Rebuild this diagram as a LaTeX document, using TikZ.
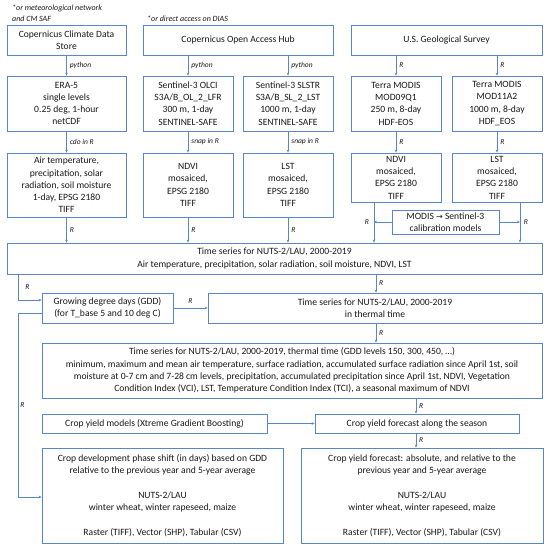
\documentclass[tikz,border=0pt]{standalone}
\usepackage{fontspec}
\setmainfont{Carlito}
\usetikzlibrary{arrows.meta,calc}
\definecolor{ln}{RGB}{88,134,200}
\definecolor{tx}{RGB}{25,25,25}
\tikzset{
  box/.style={draw=ln, line width=0.8pt, rectangle, inner sep=1pt, align=center, text=tx,
    font=\fontsize{9.6}{12.3}\selectfont},
  arr/.style={draw=ln, line width=0.7pt, -{Stealth[length=3pt,width=2.6pt]}},
  lin/.style={draw=ln, line width=0.7pt},
  lab/.style={font=\fontsize{7.5}{8}\selectfont\itshape, text=tx, inner sep=1pt},
  note/.style={font=\fontsize{8}{11.5}\selectfont\itshape, text=tx, inner sep=0pt, align=left, anchor=west}
}
\newcommand{\bx}[6]{\node[box, minimum width=#3pt, minimum height=#4pt] (#1) at (#2) {#6};}
\begin{document}
\begin{tikzpicture}[x=1pt,y=-1pt]
\useasboundingbox (0,0) rectangle (550,549);
\fill[white] (0,0) rectangle (550,549);
% notes
\node[note] (n1) at (12,13) {*or meteorological network\\and CM SAF};
\node[note] (n2) at (147,19) {*or direct access on DIAS};
% top row
\bx{ccds}{66.5,40}{119}{30}{}{Copernicus Climate Data\\Store}
\bx{coah}{238,40}{190}{30}{}{Copernicus Open Access Hub}
\bx{usgs}{446.5,40}{191}{30}{}{U.S. Geological Survey}
% second row
\bx{era5}{66.5,103.5}{119}{55}{}{ERA-5\\single levels\\0.25 deg, 1-hour\\netCDF}
\bx{olci}{188,103.5}{90}{55}{}{Sentinel-3 OLCI\\S3A/B\_OL\_2\_LFR\\300 m, 1-day\\SENTINEL-SAFE}
\bx{slstr}{288,103.5}{90}{55}{}{Sentinel-3 SLSTR\\S3A/B\_SL\_2\_LST\\1000 m, 1-day\\SENTINEL-SAFE}
\bx{mod09}{396,103.5}{90}{55}{}{Terra MODIS\\MOD09Q1\\250 m, 8-day\\HDF-EOS}
\bx{mod11}{497,103.5}{90}{55}{}{Terra MODIS\\MOD11A2\\1000 m, 8-day\\HDF\_EOS}
% third row
\bx{air}{66.5,185}{119}{64}{}{Air temperature,\\precipitation, solar\\radiation, soil moisture\\1-day, EPSG 2180\\TIFF}
\bx{ndvi}{188,185}{90}{64}{}{NDVI\\mosaiced,\\EPSG 2180\\TIFF}
\bx{lst}{288,185}{90}{64}{}{LST\\mosaiced,\\EPSG 2180\\TIFF}
\bx{mndvi}{396,177.5}{90}{49}{}{NDVI\\mosaiced,\\EPSG 2180\\TIFF}
\bx{mlst}{497,177.5}{90}{49}{}{LST\\mosaiced,\\EPSG 2180\\TIFF}
\bx{calib}{445.5,222}{107}{24}{}{MODIS \textrm{\fontspec{DejaVu Sans}\fontsize{8}{9}\selectfont→} Sentinel-3\\calibration models}
% time series
\bx{ts1}{274.5,258.5}{535}{31}{}{Time series for NUTS-2/LAU, 2000-2019\\Air temperature, precipitation, solar radiation, soil moisture, NDVI, LST}
\bx{gdd}{107.5,308}{131}{30}{}{Growing degree days (GDD)\\(for T\_base 5 and 10 deg C)}
\bx{tst}{375,308}{334}{30}{}{Time series for NUTS-2/LAU, 2000-2019\\in thermal time}
\bx{tsbig}{292,370.5}{500}{55}{}{Time series for NUTS-2/LAU, 2000-2019, thermal time (GDD levels 150, 300, 450, \dots)\\minimum, maximum and mean air temperature, surface radiation, accumulated surface radiation since April 1st, soil\\moisture at 0-7 cm and 7-28 cm levels, precipitation, accumulated precipitation since April 1st, NDVI, Vegetation\\Condition Index (VCI), LST, Temperature Condition Index (TCI), a seasonal maximum of NDVI}
\bx{cym}{154.5,423.5}{225}{19}{}{Crop yield models (Xtreme Gradient Boosting)}
\bx{cyf}{417,423.5}{204}{19}{}{Crop yield forecast along the season}
\bx{cdp}{162.5,495.5}{241}{95}{}{Crop development phase shift (in days) based on GDD\\relative to the previous year and 5-year average\\[12.3pt]NUTS-2/LAU\\winter wheat, winter rapeseed, maize\\[12.3pt]Raster (TIFF), Vector (SHP), Tabular (CSV)}
\bx{cyff}{422,495.5}{242}{95}{}{Crop yield forecast: absolute, and relative to the\\previous year and 5-year average\\[12.3pt]NUTS-2/LAU\\winter wheat, winter rapeseed, maize\\[12.3pt]Raster (TIFF), Vector (SHP), Tabular (CSV)}
% connectors top
\draw[arr] (ccds.south) -- node[lab, right=2pt] {python} (era5.north);
\draw[arr] (coah.south -| olci.north) -- node[lab, right=2pt] {python} (olci.north);
\draw[arr] (coah.south -| slstr.north) -- node[lab, right=2pt] {python} (slstr.north);
\draw[arr] (usgs.south -| mod09.north) -- node[lab, right=2pt] {R} (mod09.north);
\draw[arr] (usgs.south -| mod11.north) -- node[lab, right=2pt] {R} (mod11.north);
\draw[arr] (era5.south) -- node[lab, right=2pt] {cdo in R} (air.north);
\draw[arr] (olci.south) -- node[lab, right=2pt] {snap in R} (ndvi.north);
\draw[arr] (slstr.south) -- node[lab, right=2pt] {snap in R} (lst.north);
\draw[arr] (mod09.south) -- node[lab, right=2pt] {R} (mndvi.north);
\draw[arr] (mod11.south) -- node[lab, right=2pt] {R} (mlst.north);
% to ts1
\draw[arr] (air.south) -- node[lab, right=2pt] {R} (air.south |- ts1.north);
\draw[arr] (ndvi.south) -- node[lab, right=2pt] {R} (ndvi.south |- ts1.north);
\draw[arr] (lst.south) -- node[lab, right=2pt] {R} (lst.south |- ts1.north);
\coordinate (ml) at ([xshift=-22pt]mndvi.south);
\coordinate (mr) at ([xshift=23pt]mlst.south);
\draw[arr] (ml) -- (ml |- ts1.north);
\draw[arr] (mr) -- (mr |- ts1.north);
\draw[arr] (calib.west) -- (calib.west -| ml);
\draw[arr] (calib.east) -- (calib.east -| mr);
\node[lab] (rl) at ([xshift=-7pt]calib.west -| ml) {R};
\node[lab] (rr) at ([xshift=6pt]calib.east -| mr) {R};
% ts1 to gdd
\coordinate (lx) at (18,0);
\draw[arr] (ts1.south -| lx) -- node[lab, right=6pt] {R} ($(gdd.west -| lx)+(0,-8)$) -- ($(gdd.west)+(0,-8)$);
\draw[arr] (gdd.east) -- node[lab, above=3pt] {R} (tst.west);
\draw[arr] (ts1.south -| tst.south) ++(1,0) coordinate (t1) -- (t1 |- tst.north);
\node[lab, right=2pt] (r1) at ($(t1)!0.5!(t1 |- tst.north)$) {R};
\draw[arr] (tst.south) ++(1,0) coordinate (t2) -- (t2 |- tsbig.north);
\node[lab, right=2pt] (r2) at ($(t2)!0.5!(t2 |- tsbig.north)$) {R};
% gdd to cdp
\draw[arr] ($(gdd.west)+(0,5)$) -- ($(gdd.west -| lx)+(0,5)$) -- node[lab, pos=0.5, right=1pt] {R} ($(cdp.west -| lx)+(0,1.5)$) -- ($(cdp.west)+(0,1.5)$);
% bottom
\draw[arr] (tsbig.south -| cyf.north) ++(-1,0) coordinate (t3) -- (t3 |- cyf.north);
\node[lab, right=2pt] (r3) at ($(t3)!0.5!(t3 |- cyf.north)$) {R};
\draw[arr] (cym.east) -- (cyf.west);
\draw[arr] (cyf.south) ++(-1,0) coordinate (t4) -- (t4 |- cyff.north);
\node[lab, right=2pt] (r4) at ($(t4)!0.5!(t4 |- cyff.north)$) {R};
\end{tikzpicture}
\end{document}
